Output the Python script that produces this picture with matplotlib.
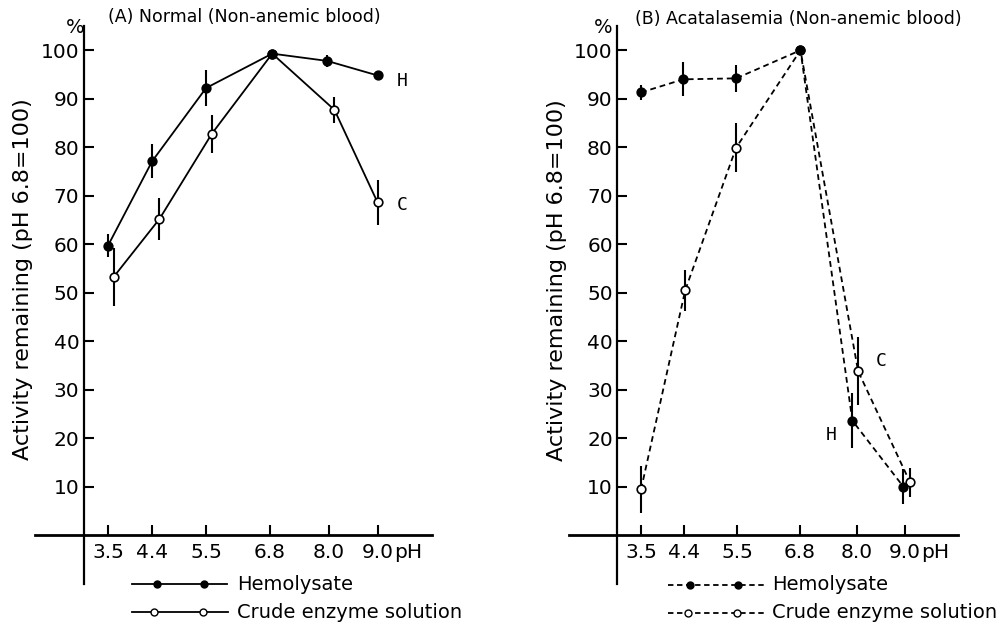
import matplotlib
matplotlib.use("Agg")
import matplotlib.pyplot as plt
from matplotlib.lines import Line2D

# ---------------- data ----------------
ph_ticks = [3.5, 4.4, 5.5, 6.8, 8.0, 9.0]
ph_tick_labels = ["3.5", "4.4", "5.5", "6.8", "8.0", "9.0"]
y_ticks = [10, 20, 30, 40, 50, 60, 70, 80, 90, 100]
y_tick_labels = ["10", "20", "30", "40", "50", "60", "70", "80", "90", "100"]

# Panel A: Normal (non-anemic blood)
A_hemo_ph = [3.5, 4.4, 5.5, 6.85, 7.97, 9.0]
A_hemo = [59.7, 77.1, 92.2, 99.3, 97.8, 94.8]
A_hemo_err = [2.3, 3.5, 3.8, 0.0, 1.3, 0.0]
A_crude_ph = [3.62, 4.55, 5.62, 6.85, 8.12, 9.0]
A_crude = [53.3, 65.2, 82.8, 99.3, 87.7, 68.6]
A_crude_err = [6.0, 4.4, 3.9, 0.0, 2.7, 4.7]

# Panel B: Acatalasemia (non-anemic blood)
B_hemo_ph = [3.5, 4.38, 5.48, 6.82, 7.9, 8.96]
B_hemo = [91.3, 94.0, 94.2, 100.0, 23.6, 10.0]
B_hemo_err = [1.5, 3.5, 2.8, 0.0, 5.7, 3.7]
B_crude_ph = [3.5, 4.42, 5.48, 6.82, 8.02, 9.1]
B_crude = [9.4, 50.5, 79.9, 100.0, 33.8, 10.9]
B_crude_err = [4.9, 4.2, 5.0, 0.0, 7.0, 3.0]

titles = ["(A) Normal (Non-anemic blood)", "(B) Acatalasemia (Non-anemic blood)"]
ylabel = "Activity remaining (pH 6.8=100)"
legend_labels = ["Hemolysate", "Crude enzyme solution"]

# ---------------- figure ----------------
W, H = 1002, 627
fig = plt.figure(figsize=(W / 100, H / 100), dpi=100)
plt.rcParams['font.family'] = ['DejaVu Sans']

def fx(px):
    return px / W

def fy(py):
    return 1 - py / H

bottom = fy(583.5)
top = fy(26)
axA = fig.add_axes([fx(34.5), bottom, fx(431.5) - fx(34.5), top - bottom])
axB = fig.add_axes([fx(569), bottom, fx(958) - fx(569), top - bottom])

TICK_FS = 14.5
LW = 1.3


def style_axis(ax):
    ax.set_xlim(2.0, 10.1)
    ax.set_ylim(-10, 105)
    ax.spines['top'].set_visible(False)
    ax.spines['right'].set_visible(False)
    ax.spines['left'].set_position(('data', 3.0))
    ax.spines['bottom'].set_position(('data', 0))
    ax.spines['left'].set_linewidth(1.6)
    ax.spines['bottom'].set_linewidth(2.0)
    ax.set_xticks(ph_ticks)
    ax.set_xticklabels(ph_tick_labels)
    ax.set_yticks(y_ticks)
    ax.set_yticklabels(y_tick_labels)
    ax.tick_params(axis='both', direction='in', length=7, width=1.5,
                   labelsize=TICK_FS, color='black')
    ax.tick_params(axis='y', pad=3)
    ax.tick_params(axis='x', pad=6)
    ax.patch.set_alpha(0)
    ax.text(9.33, -3.6, "pH", fontsize=TICK_FS, ha='left', va='center')


def plot_series(ax, x, y, err, filled, ls, z):
    ax.errorbar(x, y, yerr=err, fmt='none', ecolor='black', elinewidth=1.5,
                capsize=0, zorder=2)
    ax.plot(x, y, color='black', lw=LW, ls=ls, zorder=3,
            dashes=(3.2, 2.2) if ls == '--' else (None, None))
    ax.plot(x, y, 'o', ms=6.2, mec='black', mew=1.2,
            mfc='black' if filled else 'white', zorder=z, ls='none')


for ax in (axA, axB):
    style_axis(ax)

# Panel A
plot_series(axA, A_crude_ph, A_crude, A_crude_err, False, '-', 4)
plot_series(axA, A_hemo_ph, A_hemo, A_hemo_err, True, '-', 5)
axA.text(9.4, 93.6, "H", fontsize=13, ha='left', va='center', family='DejaVu Sans Mono')
axA.text(9.4, 68.0, "C", fontsize=13, ha='left', va='center', family='DejaVu Sans Mono')
axA.text(2.82, 104.7, "%", fontsize=14, ha='center', va='center', clip_on=False)

# Panel B
plot_series(axB, B_crude_ph, B_crude, B_crude_err, False, '--', 4)
plot_series(axB, B_hemo_ph, B_hemo, B_hemo_err, True, '--', 5)
axB.text(8.5, 36.0, "C", fontsize=13, ha='center', va='center', family='DejaVu Sans Mono')
axB.text(7.45, 20.7, "H", fontsize=13, ha='center', va='center', family='DejaVu Sans Mono')
axB.text(2.72, 104.7, "%", fontsize=14, ha='center', va='center', clip_on=False)

# Titles
fig.text(fx(244), fy(17), titles[0], fontsize=12.5, ha='center', va='center')
fig.text(fx(798), fy(19), titles[1], fontsize=12.5, ha='center', va='center')

# Y labels
fig.text(fx(23), fy(279), ylabel, fontsize=16, rotation=90, ha='center', va='center')
fig.text(fx(557), fy(280), ylabel, fontsize=16, rotation=90, ha='center', va='center')

# Legends (decorative samples)
def legend_entry(x0, x1, m1, m2, y, filled, ls, text, tx):
    kw = dict(color='black', lw=LW, transform=fig.transFigure)
    if ls == '--':
        kw['dashes'] = (3.0, 2.0)
    fig.add_artist(Line2D([fx(x0), fx(x1)], [fy(y), fy(y)], **kw))
    fig.add_artist(Line2D([fx(m1), fx(m2)], [fy(y), fy(y)], ls='none', marker='o',
                          ms=5.0, mec='black', mew=1.0,
                          mfc='black' if filled else 'white',
                          transform=fig.transFigure))
    fig.text(fx(tx), fy(y), text, fontsize=14, ha='left', va='center')

legend_entry(132, 227, 157, 204, 584, True, '-', legend_labels[0], 237)
legend_entry(132, 228, 154, 203, 612, False, '-', legend_labels[1], 237)
legend_entry(668, 767, 690, 738, 585, True, '--', legend_labels[0], 772)
legend_entry(668, 767, 688, 737, 613, False, '--', legend_labels[1], 772)

fig.savefig("out.png", dpi=100)
